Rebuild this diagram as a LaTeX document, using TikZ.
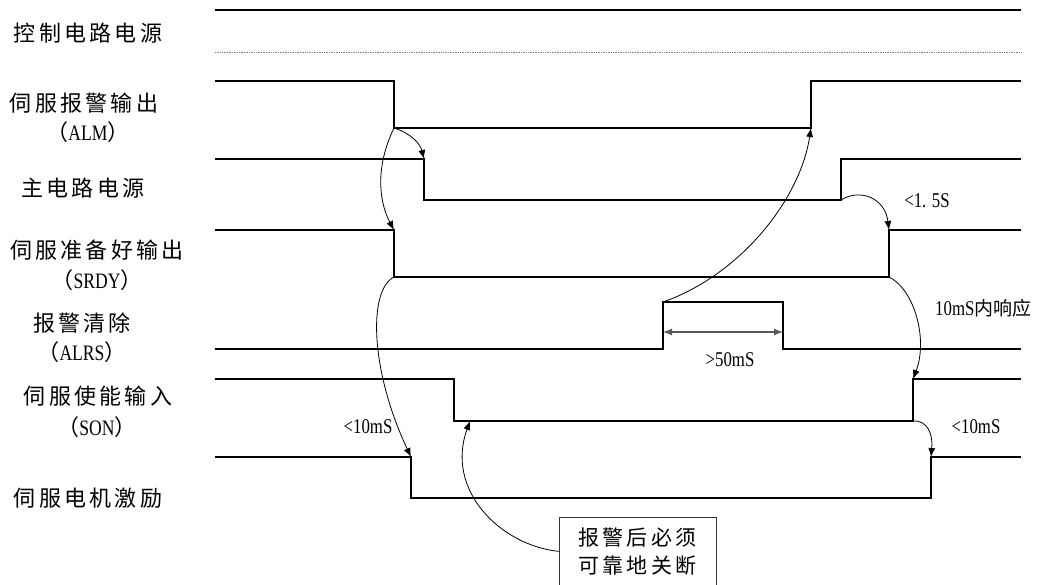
\documentclass[tikz,border=0pt]{standalone}
\usepackage{fontspec}
\setmainfont[FakeStretch=0.8]{Liberation Serif}
\newfontfamily\cjk[LetterSpace=15]{Noto Sans CJK SC}
\newfontfamily\cjkn{Noto Sans CJK SC}
\usetikzlibrary{arrows.meta}
\begin{document}
\begin{tikzpicture}[x=1pt,y=-1pt,
  wave/.style={line width=2.4pt, line join=miter, black},
  conn/.style={line width=0.8pt, -{Latex[length=9pt,width=7pt]}},
  lab/.style={font=\fontsize{22}{26}\selectfont\cjk, inner sep=0pt},
  sig/.style={font=\fontsize{22}{26}\selectfont, inner sep=0pt},
  note/.style={font=\fontsize{21}{24}\selectfont, inner sep=0pt}]
\useasboundingbox (0,0) rectangle (1042,584);
\clip (0,0) rectangle (1042,584);

% signal labels
\node[lab] (l1) at (88,33) {控制电路电源};
\node[lab] (l2) at (84,103) {伺服报警输出};
\node[sig] (l2b) at (88,132) {{\cjkn （}ALM{\cjkn ）}};
\node[lab] (l3) at (83,188) {主电路电源};
\node[lab] (l4) at (97,250) {伺服准备好输出};
\node[sig] (l4b) at (97,280) {{\cjkn （}SRDY{\cjkn ）}};
\node[lab] (l5) at (82,323) {报警清除};
\node[sig] (l5b) at (82,352) {{\cjkn （}ALRS{\cjkn ）}};
\node[lab] (l6) at (98,396) {伺服使能输入};
\node[sig] (l6b) at (97,427) {{\cjkn （}SON{\cjkn ）}};
\node[lab] (l7) at (88,498) {伺服电机激励};

% edge coordinates
\coordinate (almF) at (394,128);
\coordinate (almR) at (811,128);
\coordinate (mainFt) at (424,159);
\coordinate (mainRb) at (841,200);
\coordinate (srdyFt) at (394,230);
\coordinate (srdyFb) at (394,277);
\coordinate (srdyRt) at (889,230);
\coordinate (srdyRb) at (889,277);
\coordinate (alrsRt) at (663,302);
\coordinate (alrsRm) at (663,332);
\coordinate (alrsFm) at (783,332);
\coordinate (sonRt) at (913,379);
\coordinate (sonRb) at (913,421);
\coordinate (sonLow) at (470,421);
\coordinate (motFt) at (411,457);
\coordinate (motRt) at (931,457);

% waveforms
\draw[wave] (215,10) -- (1021,10);
\draw[gray, line width=0.9pt, dash pattern=on 1pt off 0.7pt] (215,52) -- (1021,52);
\draw[wave] (215,81) -- (394,81) -- (394,128) -- (811,128) -- (811,81) -- (1021,81);
\draw[wave] (215,159) -- (424,159) -- (424,200) -- (841,200) -- (841,159) -- (1021,159);
\draw[wave] (215,230) -- (394,230) -- (394,277) -- (889,277) -- (889,230) -- (1021,230);
\draw[wave] (215,349) -- (663,349) -- (663,302) -- (783,302) -- (783,349) -- (1021,349);
\draw[wave] (215,379) -- (454,379) -- (454,421) -- (913,421) -- (913,379) -- (1021,379);
\draw[wave] (215,457) -- (411,457) -- (411,498) -- (931,498) -- (931,457) -- (1021,457);

% box
\node[draw=black!80, line width=0.8pt, minimum width=157pt, minimum height=68pt,
  anchor=north, align=center, font=\fontsize{21}{28}\selectfont\cjk, inner sep=0pt]
  (box) at (637.5,517) {报警后必须\\可靠地关断};

% connectors
\draw[conn] (almF) .. controls (410,133) and (420,143) .. (mainFt);
\draw[conn] (almF) .. controls (376,165) and (378,200) .. (srdyFt);
\draw[conn] (srdyFb) .. controls (368,290) and (370,370) .. (motFt);
\draw[conn] (alrsRt) .. controls (740,275) and (800,200) .. (almR);
\draw[conn] (mainRb) .. controls (860,188) and (885,198) .. (srdyRt);
\draw[conn] (srdyRb) .. controls (915,290) and (928,340) .. (sonRt);
\draw[conn] (sonRb) .. controls (928,420) and (933,435) .. (motRt);
\draw[conn] (box.west) .. controls (500,545) and (445,490) .. (sonLow);
\draw[black!65, line width=1.2pt, {Latex[length=9pt,width=7pt]}-{Latex[length=9pt,width=7pt]}] (alrsRm) -- (alrsFm);

% timing notes
\node[note] (t15) at (927,201) {<1. 5S};
\node[note, anchor=west] (t10) at (935,308) {10mS{\cjkn\fontsize{19}{22}\selectfont 内响应}};
\node[note] (t50) at (730,360) {>50mS};
\node[note] (tl10) at (368,427) {<10mS};
\node[note] (tr10) at (976,427) {<10mS};
\end{tikzpicture}
\end{document}
